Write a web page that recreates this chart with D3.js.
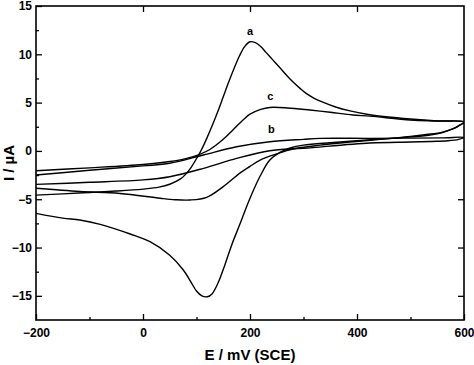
<!DOCTYPE html>
<html>
<head>
<meta charset="utf-8">
<script src="https://cdn.jsdelivr.net/npm/d3@7"></script>
<style>
  html, body { margin: 0; padding: 0; background: #fff; }
  text { font-family: "Liberation Sans", Arial, sans-serif; font-weight: bold; fill: #000; }
</style>
</head>
<body>
<svg id="chart" width="474" height="365"></svg>
<script>
// ---- Data (E in mV vs SCE, I in µA) ----
const aForwardE = [-200,-150,-100,-50,0,30,50,70,80,90,100,110,120,130,140,150,160,170,180,190,200,210,220,230,243,256,268,280,293,305,320,336,360,387,424,500,550,600];
const aForwardI = [-4.57,-4.45,-4.3,-4.15,-3.95,-3.75,-3.45,-2.9,-2.4,-1.7,-0.8,0.2,1.4,2.7,4.1,5.6,7.1,8.5,9.8,10.8,11.3,11.2,10.8,10.2,9.4,8.6,7.85,7.15,6.5,5.95,5.45,5.05,4.55,4.15,3.75,3.3,3.1,3.0];
const aReverseE = [600,590,580,560,530,500,450,400,350,300,275,256,237,219,200,181,166,153,140,129,120,110,100,90,75,50,13,-24,-80,-118,-150,-200];
const aReverseI = [3.0,2.6,2.3,1.95,1.7,1.5,1.25,1.05,0.85,0.6,0.3,-0.15,-0.94,-2.6,-4.9,-7.6,-9.7,-11.8,-13.7,-14.8,-15.1,-15.0,-14.5,-13.6,-12.3,-10.8,-9.4,-8.6,-7.6,-7.15,-6.95,-6.46];

const bForwardE = [-200,-100,0,50,113,175,237,300,331,424,500,560,600];
const bForwardI = [-2.5,-2.0,-1.55,-1.28,-0.42,0.43,0.95,1.2,1.3,1.3,1.32,1.35,1.4];
const bReverseE = [600,590,570,540,500,424,300,237,175,113,50,0,-100,-200];
const bReverseI = [1.4,1.2,1.05,0.98,0.92,0.82,0.27,0.02,-0.77,-1.8,-2.67,-3.0,-3.25,-3.46];

const cForwardE = [-200,-100,0,50,80,106,125,150,168,187,200,220,237,270,312,350,392,424,500,550,600];
const cForwardI = [-2.05,-1.75,-1.4,-1.1,-0.8,-0.35,0.15,1.2,2.16,3.2,3.8,4.3,4.5,4.45,4.23,4.0,3.72,3.6,3.2,3.1,3.0];
const cReverseE = [600,590,580,560,530,500,424,331,280,250,219,200,181,150,119,88,60,32,-43,-118,-200];
const cReverseI = [3.0,2.6,2.3,1.9,1.6,1.45,1.1,0.6,0.2,-0.3,-0.94,-1.6,-2.3,-3.7,-4.8,-5.08,-5.05,-4.9,-4.4,-4.2,-3.87];

const curveNames = ["a", "b", "c"];
const labelPos = { a: [200, 12.0], b: [240, 1.9], c: [238, 5.3] };

const xMajorTicks = [-200, 0, 200, 400, 600];
const xMinorTicks = [-100, 100, 300, 500];
const yMajorTicks = [15, 10, 5, 0, -5, -10, -15];
const yMinorTicks = [12.5, 7.5, 2.5, -2.5, -7.5, -12.5];
const topTicks = [0, 200, 400];
const xTitle = "E / mV (SCE)";
const yTitle = "I / µA";

// ---- Layout ----
const svg = d3.select("#chart");
const L = 36, R = 464, T = 6, B = 320;
const x = d3.scaleLinear().domain([-200, 600]).range([L, R]);
const y = d3.scaleLinear().domain([-17.5, 15]).range([B, T]);

function zip(E, I) { return E.map((e, i) => [e, I[i]]); }
const loops = {
  a: zip(aForwardE, aForwardI).concat(zip(aReverseE, aReverseI).slice(1)),
  b: zip(bForwardE, bForwardI).concat(zip(bReverseE, bReverseI).slice(1)),
  c: zip(cForwardE, cForwardI).concat(zip(cReverseE, cReverseI).slice(1))
};

const line = d3.line()
  .x(d => x(d[0]))
  .y(d => y(d[1]))
  .curve(d3.curveCatmullRom.alpha(0.5));

svg.append("defs").append("clipPath").attr("id", "clip")
  .append("rect").attr("x", L).attr("y", T).attr("width", R - L).attr("height", B - T);

const g = svg.append("g").attr("clip-path", "url(#clip)");
curveNames.forEach(n => {
  g.append("path")
    .attr("d", line(loops[n]))
    .attr("fill", "none")
    .attr("stroke", "#000")
    .attr("stroke-width", 1.4)
    .attr("stroke-linejoin", "round");
});

curveNames.forEach(n => {
  svg.append("text")
    .attr("x", x(labelPos[n][0]))
    .attr("y", y(labelPos[n][1]))
    .attr("text-anchor", "middle")
    .attr("font-size", 11)
    .text(n);
});

// ---- Axes (ticks inward) ----
function styleAxis(sel) {
  sel.select(".domain").remove();
  sel.selectAll("line").attr("stroke", "#000").attr("stroke-width", 1.3);
  sel.selectAll("text").attr("font-size", 12)
    .style("font-family", '"Liberation Sans", Arial, sans-serif').style("font-weight", "bold");
}

svg.append("g").attr("transform", `translate(0,${B})`)
  .call(d3.axisBottom(x).tickValues(xMajorTicks).tickSize(-6).tickPadding(8).tickFormat(d3.format("d")))
  .call(styleAxis);
svg.append("g").attr("transform", `translate(0,${B})`)
  .call(d3.axisBottom(x).tickValues(xMinorTicks).tickSize(-3).tickFormat(""))
  .call(styleAxis);
svg.append("g").attr("transform", `translate(0,${T})`)
  .call(d3.axisTop(x).tickValues(topTicks).tickSize(-6).tickFormat(""))
  .call(styleAxis);

svg.append("g").attr("transform", `translate(${L},0)`)
  .call(d3.axisLeft(y).tickValues(yMajorTicks).tickSize(-6).tickPadding(4).tickFormat(d3.format("d")))
  .call(styleAxis);
svg.append("g").attr("transform", `translate(${L},0)`)
  .call(d3.axisLeft(y).tickValues(yMinorTicks).tickSize(-3).tickFormat(""))
  .call(styleAxis);
svg.append("g").attr("transform", `translate(${R},0)`)
  .call(d3.axisRight(y).tickValues(yMajorTicks.slice(1)).tickSize(-6).tickFormat(""))
  .call(styleAxis);

svg.append("rect")
  .attr("x", L).attr("y", T).attr("width", R - L).attr("height", B - T)
  .attr("fill", "none").attr("stroke", "#000").attr("stroke-width", 1.6);

svg.append("text")
  .attr("x", (L + R) / 2).attr("y", 360)
  .attr("text-anchor", "middle").attr("font-size", 15)
  .text(xTitle);
svg.append("text")
  .attr("transform", `translate(14,${(T + B) / 2}) rotate(-90)`)
  .attr("text-anchor", "middle").attr("font-size", 15)
  .text(yTitle);
</script>
</body>
</html>
